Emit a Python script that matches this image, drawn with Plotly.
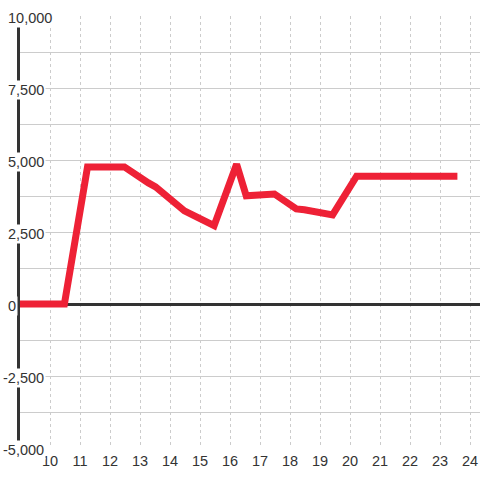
import plotly.graph_objects as go

# Data
hours = [9, 10.48, 11.25, 12.48, 13.28, 13.52, 14.48, 15.3, 15.47, 16.22,
         16.54, 17.48, 18.21, 18.48, 19.42, 20.22, 23.58]
values = [0, 0, 4760, 4760, 4205, 4067, 3234, 2760, 2720, 4850,
          3755, 3820, 3300, 3270, 3095, 4440, 4440]

x_ticks = list(range(10, 25))
x_tick_labels = [str(v) for v in x_ticks]
y_ticks = [-5000, -2500, 0, 2500, 5000, 7500, 10000]
y_tick_labels = ["-5,000", "-2,500", "0", "2,500", "5,000", "7,500", "10,000"]

RED = "#ee2136"
INK = "#333333"
GRID = "#cccccc"
BG = "#ffffff"
FONT = "Liberation Sans, Arial, sans-serif"
FS = 14.5

W, H = 480, 480
ML, MR, MT, MB = 20, 0, 16, 32
PLOT_W = W - ML - MR

fig = go.Figure()
fig.add_trace(go.Scatter(
    x=hours, y=values, mode="lines",
    line=dict(color=RED, width=7),
    hoverinfo="skip", showlegend=False,
))

fig.update_layout(
    width=W, height=H,
    margin=dict(l=ML, r=MR, t=MT, b=MB),
    paper_bgcolor=BG, plot_bgcolor=BG,
    font=dict(family=FONT, size=FS, color=INK),
    showlegend=False,
)

fig.update_xaxes(
    range=[9, 9 + PLOT_W / 30], automargin=False,
    tickvals=x_ticks, ticktext=x_tick_labels,
    showgrid=True, gridcolor=GRID, gridwidth=1, griddash="dot",
    zeroline=False, showline=False, ticks="",
    ticklabelstandoff=2,
    tickfont=dict(family=FONT, size=FS, color=INK),
)

fig.update_yaxes(
    range=[-5000, 10000], automargin=False,
    tickvals=y_ticks, showticklabels=False,
    showgrid=True, gridcolor=GRID, gridwidth=1,
    minor=dict(dtick=1250, tick0=0, showgrid=True, gridcolor=GRID, gridwidth=1),
    zeroline=True, zerolinecolor=INK, zerolinewidth=3,
    showline=True, linecolor=INK, linewidth=3,
    ticks="",
)

# y tick labels: left-aligned, sitting on an opaque box over the axis line / gridlines
for val, lab in zip(y_ticks, y_tick_labels):
    left_px = 6 - (5 if lab.startswith("-") else 0)
    fig.add_annotation(
        xref="paper", yref="y",
        x=(left_px - ML) / PLOT_W, y=val,
        xanchor="left", yanchor="middle", yshift=-2,
        text=lab, showarrow=False,
        font=dict(family=FONT, size=FS, color=INK),
        bgcolor=BG, borderpad=1,
    )

# remove the page's default body margin so the figure fills the window exactly
fig.write_html("out.html", config={"displayModeBar": False},
               post_script="document.body.style.margin='0px';")
